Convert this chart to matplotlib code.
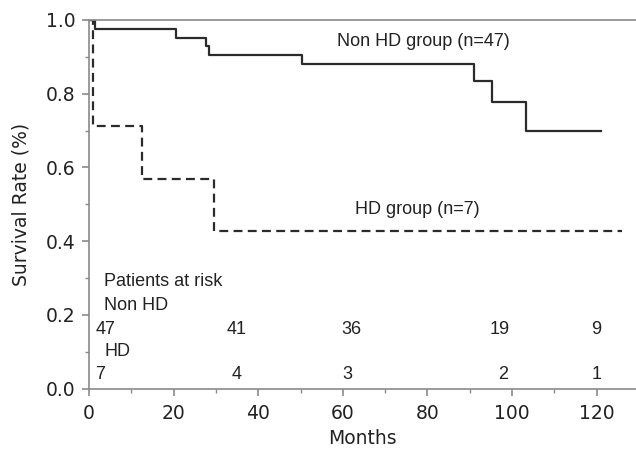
import matplotlib
matplotlib.use("Agg")
import matplotlib.pyplot as plt
from matplotlib.ticker import MultipleLocator

# Kaplan-Meier steps
nonhd_months = [0, 1.4, 20.5, 27.6, 28.4, 50.4, 91.0, 95.2, 103.2, 121.0]
nonhd_surv = [1.0, 0.975, 0.952, 0.928, 0.905, 0.880, 0.835, 0.777, 0.699, 0.699]
hd_months = [0, 1.0, 12.6, 29.5, 126.0]
hd_surv = [1.0, 0.711, 0.568, 0.428, 0.428]

# numbers at risk
nonhd_risk = [47, 41, 36, 19, 9]
nonhd_risk_x = [4, 35, 62, 97, 120]
hd_risk = [7, 4, 3, 2, 1]
hd_risk_x = [2.6, 35, 61, 98, 120]

axis_grey = "#8a8a8a"
line_col = "#2b2b2b"

fig = plt.figure(figsize=(6.36, 4.5), dpi=100)
ax = fig.add_axes([0.140, 0.136, 0.860, 0.820])

ax.step(nonhd_months, nonhd_surv, where="post", color=line_col, lw=1.6)
ax.step(hd_months, hd_surv, where="post", color=line_col, lw=1.6,
        linestyle=(0, (4, 2.4)))

ax.set_xlim(0, 129.3)
ax.set_ylim(0, 1.0)
ax.xaxis.set_major_locator(MultipleLocator(20))
ax.xaxis.set_minor_locator(MultipleLocator(10))
ax.yaxis.set_major_locator(MultipleLocator(0.2))
ax.yaxis.set_minor_locator(MultipleLocator(0.1))
ax.yaxis.set_major_formatter(plt.FormatStrFormatter("%.1f"))

for side in ["left", "bottom", "top"]:
    ax.spines[side].set_color(axis_grey)
    ax.spines[side].set_linewidth(1.2)
ax.spines["right"].set_visible(False)
ax.tick_params(which="major", direction="out", length=5, width=1.2,
               color=axis_grey, labelsize=13.5, labelcolor="#222222")
ax.tick_params(axis="x", which="major", pad=6)
ax.tick_params(axis="y", which="major", pad=5)
ax.tick_params(which="minor", direction="out", length=3, width=1.0,
               color=axis_grey)
ax.tick_params(top=False, which="both")

ax.set_xlabel("Months", fontsize=13.5, color="#222222", labelpad=4)
ax.set_ylabel("Survival Rate (%)", fontsize=13.5, color="#222222", labelpad=11)

tfont = dict(family="Liberation Sans", fontsize=13, color="#222222")
ax.text(58.5, 0.94, "Non HD group (n=47)", va="center", **tfont)
ax.text(62.8, 0.485, "HD group (n=7)", va="center", **tfont)
ax.text(3.6, 0.29, "Patients at risk", va="center", **tfont)
ax.text(3.6, 0.225, "Non HD", va="center", **tfont)
ax.text(3.6, 0.101, "HD", va="center", **tfont)
for x, n in zip(nonhd_risk_x, nonhd_risk):
    ax.text(x, 0.16, str(n), ha="center", va="center", **tfont)
for x, n in zip(hd_risk_x, hd_risk):
    ax.text(x, 0.039, str(n), ha="center", va="center", **tfont)

fig.savefig("out.png", dpi=100)
